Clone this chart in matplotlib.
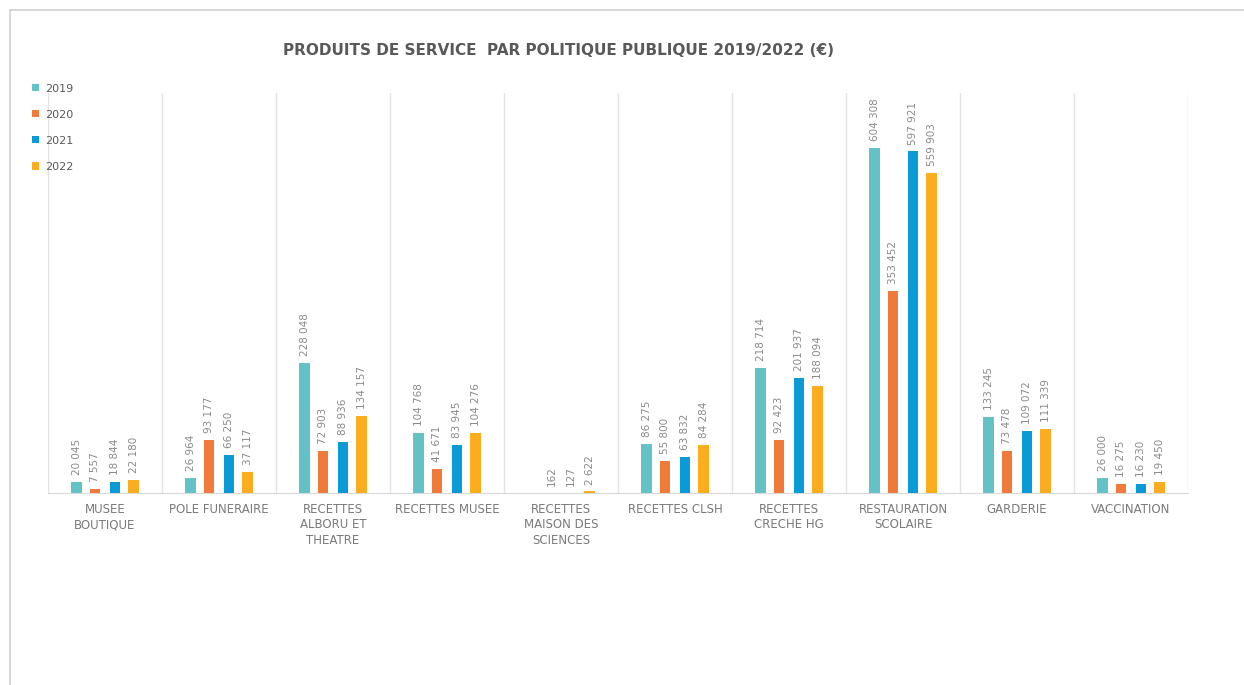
import matplotlib.pyplot as plt
import numpy as np

# donnees du graphique
categories = ["MUSEE\nBOUTIQUE", "POLE FUNERAIRE", "RECETTES\nALBORU ET\nTHEATRE",
              "RECETTES MUSEE", "RECETTES\nMAISON DES\nSCIENCES", "RECETTES CLSH",
              "RECETTES\nCRECHE HG", "RESTAURATION\nSCOLAIRE", "GARDERIE", "VACCINATION"]
annees = ["2019", "2020", "2021", "2022"]
v2019 = [20045, 26964, 228048, 104768, 0, 86275, 218714, 604308, 133245, 26000]
v2020 = [7557, 93177, 72903, 41671, 162, 55800, 92423, 353452, 73478, 16275]
v2021 = [18844, 66250, 88936, 83945, 127, 63832, 201937, 597921, 109072, 16230]
v2022 = [22180, 37117, 134157, 104276, 2622, 84284, 188094, 559903, 111339, 19450]
couleurs = ["#62C2C6", "#F07A3A", "#0A9AD6", "#FBAD1F"]

series = [v2019, v2020, v2021, v2022]

fig = plt.figure(figsize=(12.44, 6.85), dpi=100)
ax = fig.add_axes([0.0386, 0.2803, 0.9164, 0.5837])

# cadre gris clair autour du graphique
fig.add_artist(plt.Line2D([0.008, 1.0], [0.985, 0.985], color="#d0d0d0", lw=1.2, transform=fig.transFigure))
fig.add_artist(plt.Line2D([0.008, 0.008], [0.0, 0.985], color="#d0d0d0", lw=1.2, transform=fig.transFigure))

x = np.arange(len(categories))
decalages = [-0.25, -0.085, 0.085, 0.25]
largeur = 0.09

for i in range(len(annees)):
    ax.bar(x + decalages[i], series[i], largeur, color=couleurs[i], label=annees[i], zorder=3)
    for j in range(len(categories)):
        val = series[i][j]
        if val == 0:
            continue
        txt = "{:,}".format(val).replace(",", " ")
        ax.annotate(txt, (x[j] + decalages[i], val), xytext=(0, 5), textcoords="offset points",
                    rotation=90, ha="center", va="bottom", fontsize=7.5, color="#8a8a8a")

# lignes verticales de separation
for b in np.arange(-0.5, len(categories) + 0.5, 1):
    ax.axvline(b, color="#e3e3e3", lw=1, zorder=1)

ax.set_xlim(-0.5, len(categories) - 0.5)
ax.set_ylim(0, 700000)
ax.set_yticks([])
for s in ["top", "left", "right"]:
    ax.spines[s].set_visible(False)
ax.spines["bottom"].set_color("#d9d9d9")
ax.set_xticks(x)
ax.set_xticklabels(categories, fontsize=8.5, color="#7a7a7a", linespacing=1.25, va="top")
ax.tick_params(axis="x", length=0, pad=7)

fig.text(0.449, 0.927, "PRODUITS DE SERVICE  PAR POLITIQUE PUBLIQUE 2019/2022 (€)",
         ha="center", va="center", fontsize=11, fontweight="bold", color="#595959")

leg = ax.legend(loc="upper left", bbox_to_anchor=(-0.018, 1.035), frameon=False,
                fontsize=8, handlelength=0.6, handleheight=0.6, labelspacing=1.45,
                handletextpad=0.6, borderaxespad=0)
for t in leg.get_texts():
    t.set_color("#595959")

plt.savefig("out.png", dpi=100)
